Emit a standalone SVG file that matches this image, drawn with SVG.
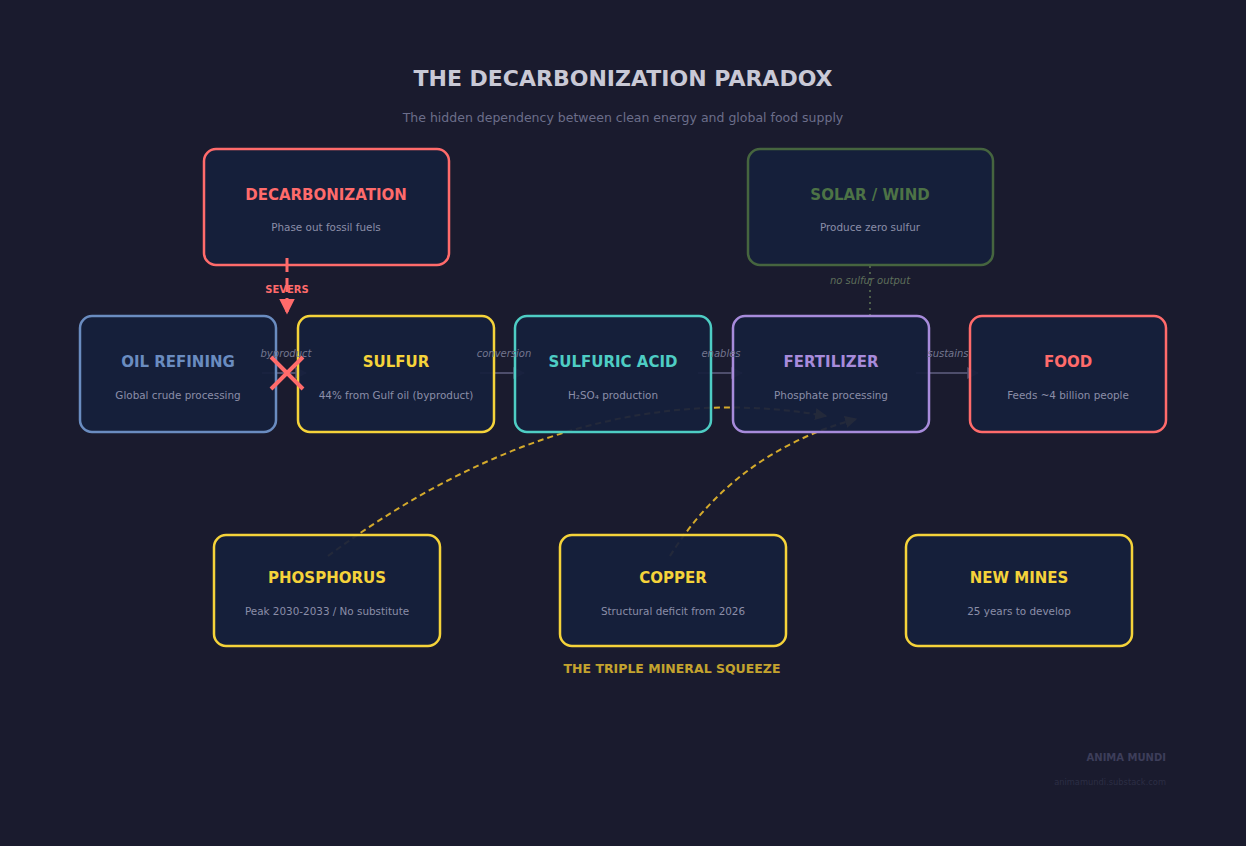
<svg xmlns="http://www.w3.org/2000/svg" width="1246" height="846" viewBox="0 0 1246 846">
<defs>
<style>
text{font-family:"DejaVu Sans","Liberation Sans",sans-serif;text-anchor:middle}
.box{fill:#161f3b;fill-opacity:0.93;stroke-width:2.5}
.t{font-size:15px;font-weight:bold}
.s{font-size:10.4px;fill:#8b8ea8}
.el{font-size:10px;font-style:italic;fill:#73768f}
.edge{stroke:#4e4e6c;stroke-width:2;fill:none}
.curve{stroke:#d4aa2c;stroke-width:2;fill:none;stroke-dasharray:6 4}
</style>
<marker id="ag" viewBox="0 0 10 10" refX="9" refY="5" markerWidth="6" markerHeight="6" orient="auto"><path d="M0,0 L10,5 L0,10 z" fill="#4e4e6c"/></marker>
<marker id="ay" viewBox="0 0 10 10" refX="9" refY="5" markerWidth="6" markerHeight="6" orient="auto"><path d="M0,0 L10,5 L0,10 z" fill="#d4aa2c"/></marker>
<marker id="ar" viewBox="0 0 10 10" refX="9" refY="5" markerWidth="5.2" markerHeight="5.2" orient="auto"><path d="M0,0 L10,5 L0,10 z" fill="#ff6b6b"/></marker>
</defs>
<rect width="1246" height="846" fill="#1a1b2e"/>
<text x="623" y="86" font-size="22" font-weight="bold" fill="#c9c9d6">THE DECARBONIZATION PARADOX</text>
<text x="623" y="122" font-size="12.5" fill="#6c6e8a">The hidden dependency between clean energy and global food supply</text>

<g id="connectors">
<line class="edge" x1="262" y1="373" x2="306" y2="373" marker-end="url(#ag)"/>
<line class="edge" x1="480" y1="373" x2="524" y2="373" marker-end="url(#ag)"/>
<line class="edge" x1="698" y1="373" x2="742" y2="373" marker-end="url(#ag)"/>
<line class="edge" x1="916" y1="373" x2="978" y2="373" marker-end="url(#ag)"/>
<line x1="870" y1="266" x2="870" y2="315" stroke="#4d5e4a" stroke-width="2" stroke-dasharray="2 4"/>
<path class="curve" d="M328 556 Q576 372 826 416" marker-end="url(#ay)"/>
<path class="curve" d="M670 556 Q735 452 856 419" marker-end="url(#ay)"/>
</g>

<g id="decarbonization"><rect class="box" x="204" y="149" width="245" height="116" rx="12" stroke="#ff6b6b"/><text class="t" x="326" y="200" fill="#ff6b6b">DECARBONIZATION</text><text class="s" x="326" y="231">Phase out fossil fuels</text></g>
<g id="solar-wind"><rect class="box" x="748" y="149" width="245" height="116" rx="12" stroke="#46653f"/><text class="t" x="870" y="200" fill="#4d7346">SOLAR / WIND</text><text class="s" x="870" y="231">Produce zero sulfur</text></g>
<g id="oil-refining"><rect class="box" x="80" y="316" width="196" height="116" rx="12" stroke="#6a8cc0"/><text class="t" x="178" y="367" fill="#6a8cc0">OIL REFINING</text><text class="s" x="178" y="399">Global crude processing</text></g>
<g id="sulfur"><rect class="box" x="298" y="316" width="196" height="116" rx="12" stroke="#f5d33a"/><text class="t" x="396" y="367" fill="#f5d33a">SULFUR</text><text class="s" x="396" y="399">44% from Gulf oil (byproduct)</text></g>
<g id="sulfuric-acid"><rect class="box" x="515" y="316" width="196" height="116" rx="12" stroke="#4ecdc4"/><text class="t" x="613" y="367" fill="#4ecdc4">SULFURIC ACID</text><text class="s" x="613" y="399">H₂SO₄ production</text></g>
<g id="fertilizer"><rect class="box" x="733" y="316" width="196" height="116" rx="12" stroke="#a78bdb"/><text class="t" x="831" y="367" fill="#a78bdb">FERTILIZER</text><text class="s" x="831" y="399">Phosphate processing</text></g>
<g id="food"><rect class="box" x="970" y="316" width="196" height="116" rx="12" stroke="#ff6b6b"/><text class="t" x="1068" y="367" fill="#ff6b6b">FOOD</text><text class="s" x="1068" y="399">Feeds ~4 billion people</text></g>
<g id="phosphorus"><rect class="box" x="214" y="535" width="226" height="111" rx="12" stroke="#f5d33a"/><text class="t" x="327" y="583" fill="#f5d33a">PHOSPHORUS</text><text class="s" x="327" y="615">Peak 2030-2033 / No substitute</text></g>
<g id="copper"><rect class="box" x="560" y="535" width="226" height="111" rx="12" stroke="#f5d33a"/><text class="t" x="673" y="583" fill="#f5d33a">COPPER</text><text class="s" x="673" y="615">Structural deficit from 2026</text></g>
<g id="new-mines"><rect class="box" x="906" y="535" width="226" height="111" rx="12" stroke="#f5d33a"/><text class="t" x="1019" y="583" fill="#f5d33a">NEW MINES</text><text class="s" x="1019" y="615">25 years to develop</text></g>

<g id="connector-labels">
<text class="el" x="286" y="357">byproduct</text>
<text class="el" x="504" y="357">conversion</text>
<text class="el" x="721" y="357">enables</text>
<text class="el" x="948" y="357">sustains</text>
<text class="el" x="870" y="284" style="fill:#5e6e5a">no sulfur output</text>
</g>

<g id="severs">
<line x1="287" y1="258" x2="287" y2="313" stroke="#ff6b6b" stroke-width="3" stroke-dasharray="14 6" marker-end="url(#ar)"/>
<text x="287" y="293" font-size="10" font-weight="bold" fill="#ff6b6b">SEVERS</text>
<path d="M271 357 L303 389 M303 357 L271 389" stroke="#ff6b6b" stroke-width="4"/>
</g>

<text x="672" y="673" font-size="12.5" font-weight="bold" fill="#c4a32e">THE TRIPLE MINERAL SQUEEZE</text>
<text x="1166" y="761" font-size="10" font-weight="bold" fill="#3d3e5a" style="text-anchor:end">ANIMA MUNDI</text>
<text x="1166" y="785" font-size="8.3" fill="#2c2e45" style="text-anchor:end">animamundi.substack.com</text>
</svg>
